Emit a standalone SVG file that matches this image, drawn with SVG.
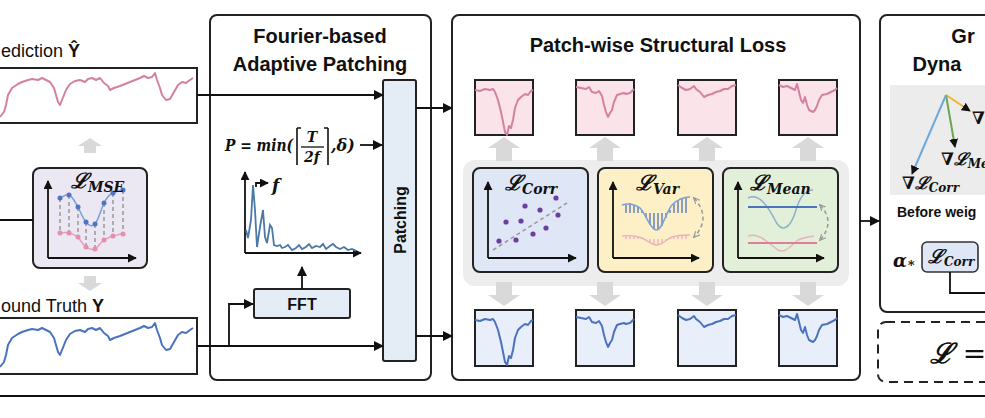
<svg xmlns="http://www.w3.org/2000/svg" xmlns:xlink="http://www.w3.org/1999/xlink" width="985" height="418" viewBox="0 0 985 418">
<style>
.frame{fill:#fff;stroke:#222;stroke-width:2}
.box{stroke:#222;stroke-width:2}
.ln{fill:none;stroke:#111;stroke-width:1.8}
.arr{fill:none;stroke:#111;stroke-width:1.8;marker-end:url(#ah)}
.ax{fill:none;stroke:#111;stroke-width:1.8;marker-end:url(#ahs)}
.ga{fill:#d9d9d9}
.sans{font-family:"Liberation Sans","Open Sans",sans-serif}
.title{font-family:"Liberation Sans",sans-serif;font-weight:bold;font-size:20px;fill:#111;text-anchor:middle}
.math{font-family:"DejaVu Serif","Liberation Serif",serif;font-weight:bold;font-style:italic;fill:#111}
.pk{fill:none;stroke:#d4819f;stroke-width:2;stroke-linejoin:round}
.bl{fill:none;stroke:#4a72bf;stroke-width:2;stroke-linejoin:round}
.dash{fill:none;stroke:#999;stroke-width:1.5;stroke-dasharray:4 3}
</style>
<defs>
<marker id="ah" viewBox="0 0 10 10" refX="9" refY="5" markerWidth="10" markerHeight="10" markerUnits="userSpaceOnUse" orient="auto"><path d="M0,0 L10,5 L0,10 z" fill="#111"/></marker>
<marker id="ahs" viewBox="0 0 10 10" refX="9" refY="5" markerWidth="9" markerHeight="9" markerUnits="userSpaceOnUse" orient="auto"><path d="M0,0 L10,5 L0,10 z" fill="#111"/></marker>
<marker id="ahg" viewBox="0 0 10 10" refX="8" refY="5" markerWidth="7" markerHeight="7" markerUnits="userSpaceOnUse" orient="auto-start-reverse"><path d="M0,1 L9,5 L0,9" fill="none" stroke="#999" stroke-width="1.6"/></marker>
<path id="ts" d="M0,117 L4,112 L6,105 L8,95 L12,88 L18,84 L22,82 L28,80 L32,79 L38,80 L42,78 L46,80 L50,82 L54,88 L56,95 L58,102 L60,105 L62,100 L66,90 L70,84 L75,81 L80,80 L85,82 L88,79 L92,78 L96,80 L100,78 L104,83 L108,86 L110,90 L114,88 L120,86 L125,84 L130,82 L135,80 L140,78 L144,76 L148,78 L152,77 L155,73 L157,80 L160,88 L162,95 L166,100 L170,99 L174,92 L178,85 L182,82 L186,83 L190,80 L193,78"/>
<path id="p1" d="M0,10 L5,11 L10,9 L15,10 L18,9 L20,12 L23,20 L26,32 L28,42 L30,52 L32,55 L34,46 L36,48 L38,40 L40,28 L43,20 L46,17 L50,14 L53,15 L56,11 L58,10"/>
<path id="p2" d="M0,7 L5,8 L10,9 L13,7 L16,12 L20,13 L23,11 L26,16 L28,25 L30,32 L32,37 L34,33 L36,30 L38,22 L41,15 L44,14 L48,13 L50,14 L54,13 L58,9"/>
<path id="p3" d="M0,5 L4,8 L8,10 L12,9 L16,6 L18,9 L22,12 L26,17 L30,15 L34,14 L38,12 L42,11 L46,9 L50,9 L54,6 L58,5"/>
<path id="p4" d="M0,5 L4,7 L8,6 L12,8 L16,10 L18,4 L20,12 L22,20 L24,23 L26,17 L28,25 L30,30 L34,32 L36,30 L38,26 L40,20 L43,15 L48,14 L52,12 L56,10 L58,8"/>
<path id="gup" d="M0,0 L16,11 L8,11 L8,24 L-8,24 L-8,11 L-16,11 z"/>
</defs>

<rect width="985" height="418" fill="#fff"/>

<!-- left: prediction -->
<g id="prediction">
  <text x="1" y="57" class="sans" font-size="18" fill="#111">ediction <tspan font-weight="bold">Ŷ</tspan></text>
  <rect x="-2" y="68" width="199" height="55" class="box" fill="#fff"/>
  <use xlink:href="#ts" class="pk"/>
</g>
<g id="up-arrow-left"><path class="ga" d="M90,138 L102,146 L96,146 L96,153 L84,153 L84,146 L78,146 z"/></g>
<g id="mse">
  <rect x="33" y="168" width="114" height="100" rx="7" class="box" fill="#ebe7f3"/>
  <path class="ax" d="M48,258 V181"/>
  <path class="ax" d="M48,258 H136"/>
  <g class="dash" stroke-width="1.2" stroke-dasharray="3 2">
    <path d="M60,198 V233 M69,195 V233 M78,207 V237 M86,222 V247 M95,224 V249 M104,203 V240 M113,193 V236 M123,190 V234"/>
  </g>
  <path d="M60,198 C64,196 66,194 69,195 C73,197 75,202 78,207 C81,213 83,219 86,222 C89,226 92,227 95,224 C99,219 101,209 104,203 C107,197 110,194 113,193 C117,191 120,190 123,190" fill="none" stroke="#7a9fd8" stroke-width="1.5"/>
  <path d="M60,233 C64,233 66,232 69,233 C73,234 75,235 78,237 C81,241 83,245 86,247 C89,249 92,250 95,249 C99,246 101,242 104,240 C107,238 110,237 113,236 C117,235 120,234 123,234" fill="none" stroke="#e6a0b8" stroke-width="1.5"/>
  <g fill="#4f74c4"><circle cx="60" cy="198" r="2.5"/><circle cx="69" cy="195" r="2.5"/><circle cx="78" cy="207" r="2.5"/><circle cx="86" cy="222" r="2.5"/><circle cx="95" cy="224" r="2.5"/><circle cx="104" cy="203" r="2.5"/><circle cx="113" cy="193" r="2.5"/><circle cx="123" cy="190" r="2.5"/></g>
  <g fill="#e58fad"><circle cx="60" cy="233" r="2.5"/><circle cx="69" cy="233" r="2.5"/><circle cx="78" cy="237" r="2.5"/><circle cx="86" cy="247" r="2.5"/><circle cx="95" cy="249" r="2.5"/><circle cx="104" cy="240" r="2.5"/><circle cx="113" cy="236" r="2.5"/><circle cx="123" cy="234" r="2.5"/></g>
  <text x="71" y="188" class="math" font-size="21">ℒ<tspan font-size="14" dy="4">MSE</tspan></text>
</g>
<g id="down-arrow-left"><path class="ga" d="M90,291 L102,283 L96,283 L96,276 L84,276 L84,283 L78,283 z"/></g>
<g id="ground-truth">
  <text x="1" y="312" class="sans" font-size="18" fill="#111">ound Truth <tspan font-weight="bold">Y</tspan></text>
  <rect x="-2" y="318" width="199" height="56" class="box" fill="#fff"/>
  <use xlink:href="#ts" class="bl" transform="translate(0,250)"/>
</g>

<!-- frame 1 -->
<g id="fourier-frame">
  <rect x="210" y="15" width="221" height="365" rx="7" class="frame"/>
  <text x="320" y="43" class="title">Fourier-based</text>
  <text x="320" y="71" class="title">Adaptive Patching</text>
</g>
<g id="formula">
  <text x="225" y="151" class="math" font-size="16" textLength="68" lengthAdjust="spacingAndGlyphs">P = min(</text>
  <path d="M297,128 V165 M297,128 H301 M328,128 V165 M328,128 H324" fill="none" stroke="#111" stroke-width="1.6"/>
  <text x="312" y="142" class="math" font-size="14" text-anchor="middle">T</text>
  <path d="M301,147 H324" stroke="#111" stroke-width="1.3"/>
  <text x="312" y="162" class="math" font-size="14" text-anchor="middle">2f</text>
  <text x="331" y="151" class="math" font-size="16">,δ)</text>
</g>
<g id="spectrum">
  <path class="ax" d="M245,253 V172"/>
  <path class="ax" d="M245,253 H361"/>
  <path d="M246,230 L248,238 L251,220 L253,185 L255,210 L257,247 L260,227 L263,210 L265,237 L267,243 L270,225 L272,228 L274,245 L277,246 L280,245 L282,248 L285,247 L288,245 L292,250 L296,248 L299,245 L302,249 L306,247 L309,244 L312,248 L316,246 L320,247 L323,244 L326,249 L330,246 L333,244 L336,247 L340,249 L344,247 L348,250 L352,249 L356,251" fill="none" stroke="#4a78a8" stroke-width="1.8"/>
  <path class="ax" d="M256,187 V183 H268"/>
  <text x="272" y="191" class="math" font-size="17">f</text>
</g>
<g id="fft">
  <rect x="254" y="289" width="96" height="29" rx="2" class="box" fill="#e4ecf6"/>
  <text x="302" y="310" class="sans" font-size="16" font-weight="bold" text-anchor="middle" fill="#111">FFT</text>
</g>
<g id="patching">
  <rect x="383" y="80" width="33" height="281" rx="2" class="box" fill="#e4ecf6"/>
  <text transform="translate(406,220) rotate(-90)" class="sans" font-size="16" font-weight="bold" text-anchor="middle" fill="#111">Patching</text>
</g>

<!-- frame 2 -->
<g id="structural-frame">
  <rect x="452" y="15" width="408" height="365" rx="7" class="frame"/>
  <text x="658" y="52" class="title" font-size="20.5">Patch-wise Structural Loss</text>
  <rect x="463" y="160" width="386" height="126" rx="12" fill="#ededed"/>
  <g class="ga">
    <use xlink:href="#gup" transform="translate(504,137)"/>
    <use xlink:href="#gup" transform="translate(605,137)"/>
    <use xlink:href="#gup" transform="translate(707,137)"/>
    <use xlink:href="#gup" transform="translate(808,137)"/>
    <use xlink:href="#gup" transform="translate(504,306) scale(1,-1)"/>
    <use xlink:href="#gup" transform="translate(605,306) scale(1,-1)"/>
    <use xlink:href="#gup" transform="translate(707,306) scale(1,-1)"/>
    <use xlink:href="#gup" transform="translate(808,306) scale(1,-1)"/>
  </g>
</g>
<g id="pred-patches">
  <rect x="475" y="80" width="58" height="55" class="box" fill="#fbe3ea"/>
  <rect x="576" y="80" width="58" height="55" class="box" fill="#fbe3ea"/>
  <rect x="678" y="80" width="58" height="55" class="box" fill="#fbe3ea"/>
  <rect x="779" y="80" width="58" height="55" class="box" fill="#fbe3ea"/>
  <use xlink:href="#p1" class="pk" transform="translate(475,80)"/>
  <use xlink:href="#p2" class="pk" transform="translate(576,80)"/>
  <use xlink:href="#p3" class="pk" transform="translate(678,80)"/>
  <use xlink:href="#p4" class="pk" transform="translate(779,80)"/>
</g>
<g id="gt-patches">
  <rect x="475" y="310" width="58" height="56" class="box" fill="#e9effa"/>
  <rect x="576" y="310" width="58" height="56" class="box" fill="#e9effa"/>
  <rect x="678" y="310" width="58" height="56" class="box" fill="#e9effa"/>
  <rect x="779" y="310" width="58" height="56" class="box" fill="#e9effa"/>
  <use xlink:href="#p1" class="bl" transform="translate(475,310)"/>
  <use xlink:href="#p2" class="bl" transform="translate(576,310)"/>
  <use xlink:href="#p3" class="bl" transform="translate(678,310)"/>
  <use xlink:href="#p4" class="bl" transform="translate(779,310)"/>
</g>
<g id="corr-loss">
  <rect x="473" y="168" width="115" height="104" rx="7" class="box" fill="#dfe7f6"/>
  <path class="ax" d="M488,258 V182"/>
  <path class="ax" d="M488,258 H576"/>
  <path class="dash" d="M493,250 L567,203"/>
  <g fill="#6b3fa0"><circle cx="556" cy="198" r="2.6"/><circle cx="525" cy="206" r="2.6"/><circle cx="540" cy="210" r="2.6"/><circle cx="558" cy="215" r="2.6"/><circle cx="521" cy="221" r="2.6"/><circle cx="506" cy="222" r="2.6"/><circle cx="546" cy="228" r="2.6"/><circle cx="533" cy="234" r="2.6"/><circle cx="499" cy="241" r="2.6"/><circle cx="516" cy="240" r="2.6"/></g>
  <text x="505" y="190" class="math" font-size="21">ℒ<tspan font-size="14" dy="4">Corr</tspan></text>
</g>
<g id="var-loss">
  <rect x="598" y="168" width="115" height="104" rx="7" class="box" fill="#fdf0c6"/>
  <path class="ax" d="M613,258 V182"/>
  <path class="ax" d="M613,258 H699"/>
  <g stroke="#4a72bf" stroke-width="1.5" opacity="0.85">
    <path d="M626,213 V204 M630,213 V203 M634,213 V205 M638,213 V207 M642,213 V210 M646,213 V218 M650,213 V225 M654,213 V229 M658,213 V229 M662,213 V226 M666,213 V218 M670,213 V210 M674,213 V204 M678,213 V200 M682,213 V198 M686,213 V197"/>
  </g>
  <path d="M622,205 C628,203 634,204 640,208 C646,214 650,229 656,230 C662,231 666,212 672,205 C678,199 683,197 690,197" fill="none" stroke="#7fa0d8" stroke-width="1.6"/>
  <g stroke="#e8a2b6" stroke-width="1.3" opacity="0.8">
    <path d="M626,239 V236 M630,239 V235 M634,239 V236 M638,239 V237 M642,239 V238 M646,239 V241 M650,239 V243 M654,239 V245 M658,239 V245 M662,239 V243 M666,239 V240 M670,239 V238 M674,239 V237 M678,239 V236 M682,239 V235 M686,239 V235"/>
  </g>
  <path d="M622,236 C630,235 636,236 642,238 C648,241 652,245 657,245 C663,245 666,239 672,237 C678,235 683,235 690,235" fill="none" stroke="#eab0c2" stroke-width="1.4"/>
  <path class="dash" d="M694,198 Q712,218 694,237" marker-start="url(#ahg)" marker-end="url(#ahg)"/>
  <text x="636" y="190" class="math" font-size="21">ℒ<tspan font-size="14" dy="4">Var</tspan></text>
</g>
<g id="mean-loss">
  <rect x="723" y="168" width="115" height="104" rx="7" class="box" fill="#e2efd9"/>
  <path class="ax" d="M738,258 V182"/>
  <path class="ax" d="M738,258 H824"/>
  <path d="M748,198 C760,192 770,210 776,222 C782,232 790,230 796,210 C800,196 806,190 813,190" fill="none" stroke="#8fb0c8" stroke-width="1.5"/>
  <path d="M748,207 H817" stroke="#4a72bf" stroke-width="2"/>
  <path d="M748,236 C760,232 770,245 778,250 C786,254 792,244 798,240 C804,237 808,237 814,236" fill="none" stroke="#e8b2c0" stroke-width="1.4"/>
  <path d="M748,243 H817" stroke="#e07d9a" stroke-width="2"/>
  <path class="dash" d="M820,205 Q836,222 820,240" marker-start="url(#ahg)" marker-end="url(#ahg)"/>
  <text x="750" y="190" class="math" font-size="21">ℒ<tspan font-size="14" dy="4">Mean</tspan></text>
</g>

<!-- frame 3 -->
<g id="gradient-frame">
  <rect x="880" y="15" width="120" height="297" rx="7" class="frame"/>
  <text x="963" y="43" class="title" text-anchor="start">Gr</text>
  <text x="937" y="71" class="title" text-anchor="start">Dyna</text>
  <rect x="890" y="85" width="100" height="110" fill="#ececec"/>
  <path d="M946,95 L970,111" stroke="#f0b429" stroke-width="2" fill="none" marker-end="url(#ahs)"/>
  <path d="M946,95 L955,147" stroke="#6aa84f" stroke-width="2" fill="none" marker-end="url(#ahs)"/>
  <path d="M946,95 L912,174" stroke="#6fa8dc" stroke-width="2" fill="none" marker-end="url(#ahs)"/>
  <text x="972" y="124" class="math" font-size="17">∇ℒ</text>
  <text x="941" y="165" class="math" font-size="17">∇ℒ<tspan font-size="12" dy="3">Me</tspan></text>
  <text x="902" y="189" class="math" font-size="17">∇ℒ<tspan font-size="12" dy="3">Corr</tspan></text>
  <text x="897" y="217" class="sans" font-size="14" font-weight="bold" fill="#111">Before weig</text>
  <text x="893" y="267" class="math" font-size="18">α<tspan font-size="13" font-style="normal">∗</tspan></text>
  <rect x="922" y="242" width="56" height="30" rx="5" stroke="#333" stroke-width="1.6" fill="#dfe7f6"/>
  <text x="928" y="263" class="math" font-size="19">ℒ<tspan font-size="12" dy="3">Corr</tspan></text>
</g>
<g id="total-loss">
  <rect x="878" y="322" width="130" height="60" rx="8" fill="#fff" stroke="#222" stroke-width="2" stroke-dasharray="9 6"/>
  <text x="930" y="363" class="math" font-size="28">ℒ <tspan font-style="normal" font-weight="normal">=</tspan></text>
</g>

<!-- connectors (drawn last, above frames) -->
<g id="connectors">
  <path class="ln" d="M0,220 H33"/>
  <path class="arr" d="M197,95 H383"/>
  <path class="arr" d="M197,346 H383"/>
  <path class="arr" d="M229,346 V304 H253"/>
  <path class="arr" d="M302,289 V267"/>
  <path class="arr" d="M360,145 H382"/>
  <path class="arr" d="M416,108 H452"/>
  <path class="arr" d="M416,336 H452"/>
  <path class="arr" d="M860,221 H879"/>
  <path class="ln" d="M950,272 V293 H985"/>
  <path class="ln" d="M0,396 H985" stroke="#333"/>
</g>
</svg>
